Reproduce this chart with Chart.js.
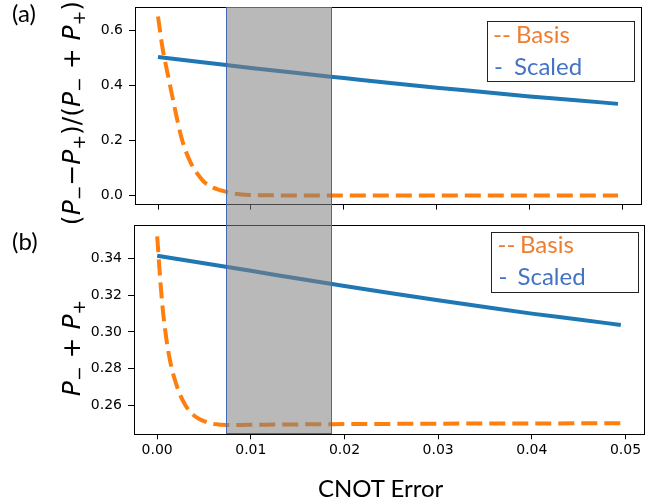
<!DOCTYPE html>
<html>
<head>
<meta charset="utf-8">
<script src="https://cdn.jsdelivr.net/npm/chart.js@4.4.0/dist/chart.umd.min.js"></script>
<style>
  html, body { margin: 0; padding: 0; background: #fff; }
  #wrap { position: relative; width: 667px; height: 499px; overflow: hidden; font-family: Lato, sans-serif; }
  canvas { position: absolute; left: 0; }
  #cTop { top: -20px; }
  #cBot { top: 0; }
  .txt { position: absolute; white-space: nowrap; font-size: 24px; line-height: 1.2; }
  .orange { color: #ED7D31; }
  .blue { color: #4472C4; }
  .legend { position: absolute; border: 1.5px solid #222; background: #fff; box-sizing: border-box; }
  .ytitle { position: absolute; white-space: nowrap; font-family: "DejaVu Sans", sans-serif; font-size: 25px;
            line-height: 1; transform: translate(-50%, -50%) rotate(-90deg); color: #000; }
  .ytitle i { font-style: italic; }
  .s { font-size: 0.7em; position: relative; top: 0.3em; }
  #shade { position: absolute; background: rgba(128, 128, 128, 0.55); border: 1.5px solid #4468B4; box-sizing: border-box; }
</style>
</head>
<body>
<div id="wrap">
  <canvas id="cTop" width="667" height="239"></canvas>
  <canvas id="cBot" width="667" height="499"></canvas>
  <div id="shade"></div>

  <div class="txt" style="left:12px; top:-1px;">(a)</div>
  <div class="txt" style="left:12px; top:227px;">(b)</div>
  <div class="txt" style="left:318px; top:473.5px;">CNOT Error</div>

  <div class="ytitle" style="left:71px; top:113px;">(<i>P</i><span class="s">−</span>−<i>P</i><span class="s">+</span>)/(<i>P</i><span class="s">−</span> + <i>P</i><span class="s">+</span>)</div>
  <div class="ytitle" style="left:71px; top:348px;"><i>P</i><span class="s">−</span> + <i>P</i><span class="s">+</span></div>

  <div class="legend" style="left:486.5px; top:21px; width:148px; height:61px;"></div>
  <div class="txt orange" style="left:493px; top:19.6px;">--</div>
  <div class="txt orange" style="left:516px; top:19.6px;">Basis</div>
  <div class="txt blue" style="left:494px; top:51.6px;">-</div>
  <div class="txt blue" style="left:514px; top:51.6px;">Scaled</div>

  <div class="legend" style="left:490.5px; top:231.5px; width:148px; height:61px;"></div>
  <div class="txt orange" style="left:497.5px; top:230.3px;">--</div>
  <div class="txt orange" style="left:520px; top:230.3px;">Basis</div>
  <div class="txt blue" style="left:498.5px; top:262px;">-</div>
  <div class="txt blue" style="left:517.5px; top:262px;">Scaled</div>
</div>

<script>
// x ticks (CNOT error) and y ticks for each panel
const xTicks = [0, 0.01, 0.02, 0.03, 0.04, 0.05];
const ratioTicks = [0, 0.2, 0.4, 0.6];
const sumTicks = [0.26, 0.28, 0.30, 0.32, 0.34];

// Basis curve, dense near zero where it drops
const basisErr = [0, 0.0005, 0.001, 0.0015, 0.002, 0.0025, 0.003, 0.0035, 0.004, 0.0045,
  0.005, 0.0055, 0.006, 0.0065, 0.007, 0.0075, 0.008, 0.0085, 0.009, 0.0095, 0.01,
  0.0125, 0.015, 0.0175, 0.02, 0.025, 0.03, 0.035, 0.04, 0.045, 0.0495];
const basisRatio = [0.652, 0.535, 0.450, 0.368, 0.287, 0.214, 0.161, 0.121, 0.091, 0.068,
  0.049, 0.037, 0.028, 0.022, 0.017, 0.012, 0.009, 0.006, 0.004, 0.003, 0.002,
  0.001, 0.0005, 0, 0, 0, 0, 0, 0, 0, 0];
const basisSum = [0.3522, 0.3175, 0.2955, 0.2812, 0.2720, 0.2650, 0.2600, 0.2564, 0.2540, 0.2524,
  0.2512, 0.2503, 0.2497, 0.2494, 0.2492, 0.2491, 0.2491, 0.2491, 0.2491, 0.2492, 0.2492,
  0.2493, 0.2494, 0.2495, 0.2496, 0.2497, 0.2498, 0.2499, 0.2499, 0.2500, 0.2500];

// Scaled curve
const scaledErr = [0, 0.005, 0.01, 0.015, 0.02, 0.025, 0.03, 0.035, 0.04, 0.045, 0.0495];
const scaledRatio = [0.505, 0.485, 0.465, 0.446, 0.428, 0.410, 0.393, 0.377, 0.361, 0.3475, 0.334];
const scaledSum = [0.3416, 0.3375, 0.3334, 0.3292, 0.3251, 0.3211, 0.3173, 0.3136, 0.3100, 0.3068, 0.3038];

// highlighted error window
const shadeRange = [0.0074, 0.0187];

const ORANGE = '#ff7f0e';
const BLUE = '#1f77b4';

const pairs = (xs, ys) => xs.map((x, i) => ({ x: x, y: ys[i] }));

const frame = {
  id: 'frame',
  afterDraw(chart) {
    const a = chart.chartArea;
    const ctx = chart.ctx;
    ctx.save();
    ctx.strokeStyle = '#000';
    ctx.lineWidth = 1;
    ctx.strokeRect(Math.round(a.left) + 0.5, Math.round(a.top) + 0.5,
      Math.round(a.right - a.left), Math.round(a.bottom - a.top));
    ctx.restore();
  }
};

Chart.defaults.font.family = '"DejaVu Sans", sans-serif';
Chart.defaults.font.size = 14;
Chart.defaults.color = '#000';

function makePanel(id, opts) {
  return new Chart(document.getElementById(id), {
    type: 'line',
    data: {
      datasets: [
        {
          label: 'Basis',
          data: pairs(basisErr, opts.basis),
          borderColor: ORANGE,
          borderWidth: 4,
          borderDash: [16, 7],
          pointRadius: 0,
          cubicInterpolationMode: 'monotone',
        },
        {
          label: 'Scaled',
          data: pairs(scaledErr, opts.scaled),
          borderColor: BLUE,
          borderWidth: 4,
          pointRadius: 0,
          cubicInterpolationMode: 'monotone',
        },
      ],
    },
    options: {
      responsive: false,
      animation: false,
      events: [],
      layout: { padding: opts.padding },
      plugins: { legend: { display: false }, tooltip: { enabled: false } },
      scales: {
        x: {
          type: 'linear',
          min: -0.002475,
          max: 0.051975,
          border: { display: false },
          grid: { drawOnChartArea: false, drawTicks: true, tickLength: 5, color: '#000', lineWidth: 1 },
          ticks: {
            padding: 3,
            maxRotation: 0,
            callback: (v) => (opts.showX ? v.toFixed(2) : ''),
          },
          afterBuildTicks: (scale) => { scale.ticks = xTicks.map((v) => ({ value: v })); },
          afterFit: (scale) => { scale.height = opts.xHeight; },
        },
        y: {
          type: 'linear',
          min: opts.yMin,
          max: opts.yMax,
          border: { display: false },
          grid: { drawOnChartArea: false, drawTicks: true, tickLength: 6, color: '#000', lineWidth: 1 },
          ticks: {
            padding: 6,
            callback: (v) => v.toFixed(opts.digits),
          },
          afterBuildTicks: (scale) => { scale.ticks = opts.yTicks.map((v) => ({ value: v })); },
          afterFit: (scale) => { scale.width = opts.yWidth; },
        },
      },
    },
    plugins: [frame],
  });
}

const topChart = makePanel('cTop', {
  basis: basisRatio,
  scaled: scaledRatio,
  yTicks: ratioTicks,
  yMin: -0.0327,
  yMax: 0.6856,
  digits: 1,
  showX: false,
  xHeight: 6,
  yWidth: 135,
  padding: { top: 27.3, right: 26, bottom: 0, left: 0 },
});

const botChart = makePanel('cBot', {
  basis: basisSum,
  scaled: scaledSum,
  yTicks: sumTicks,
  yMin: 0.2440,
  yMax: 0.3583,
  digits: 2,
  showX: true,
  xHeight: 64.7,
  yWidth: 134,
  padding: { top: 225.3, right: 23, bottom: 0, left: 0 },
});

// shaded window spans both panels, placed from the bottom panel's x scale
const shade = document.getElementById('shade');
const x0 = botChart.scales.x.getPixelForValue(shadeRange[0]);
const x1 = botChart.scales.x.getPixelForValue(shadeRange[1]);
const yTop = topChart.chartArea.top - 20;
const yBot = botChart.chartArea.bottom;
shade.style.left = x0 + 'px';
shade.style.width = (x1 - x0) + 'px';
shade.style.top = yTop + 'px';
shade.style.height = (yBot - yTop) + 'px';
</script>
</body>
</html>
